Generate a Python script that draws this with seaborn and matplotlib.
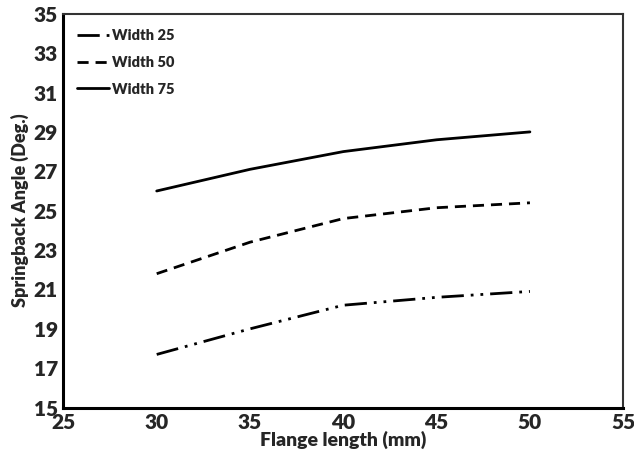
import matplotlib
matplotlib.use("Agg")
import matplotlib.pyplot as plt
import seaborn as sns
import pandas as pd

# values
flange = [30, 35, 40, 45, 50]
width_25 = [17.7, 19.0, 20.2, 20.6, 20.9]
width_50 = [21.8, 23.4, 24.6, 25.15, 25.4]
width_75 = [26.0, 27.1, 28.0, 28.6, 29.0]

df = pd.DataFrame({
    "Flange length (mm)": flange * 3,
    "Springback Angle (Deg.)": width_25 + width_50 + width_75,
    "series": ["Width 25"] * 5 + ["Width 50"] * 5 + ["Width 75"] * 5,
})

sns.set_theme(style="white")
plt.rcParams["font.family"] = ["Lato", "DejaVu Sans"]
plt.rcParams["font.weight"] = "bold"

fig, ax = plt.subplots(figsize=(6.34, 4.58), dpi=100)
fig.subplots_adjust(left=0.1, right=0.983, top=0.97, bottom=0.11)

dash_map = {
    "Width 25": (8, 2.5, 1, 2.5, 1, 2.5),
    "Width 50": (4, 2.5),
    "Width 75": "",
}
sns.lineplot(data=df, x="Flange length (mm)", y="Springback Angle (Deg.)",
             hue="series", style="series", dashes=dash_map,
             palette=["black"] * 3, linewidth=2, ax=ax)

ax.set_xlim(25, 55)
ax.set_ylim(15, 35)
ax.set_xticks(range(25, 56, 5))
ax.set_yticks(range(15, 36, 2))
ax.tick_params(labelsize=15, length=0, pad=4)
for lab in ax.get_xticklabels() + ax.get_yticklabels():
    lab.set_fontweight("heavy")
ax.set_xlabel("Flange length (mm)", fontsize=14, fontweight="heavy", labelpad=-1)
ax.set_ylabel("Springback Angle (Deg.)", fontsize=13, fontweight="heavy", labelpad=3)

for s in ax.spines.values():
    s.set_color("#333333")
    s.set_linewidth(1.5)
ax.spines["left"].set_color("black")
ax.spines["bottom"].set_color("black")
ax.spines["left"].set_linewidth(2.2)
ax.spines["bottom"].set_linewidth(2.2)

leg = ax.legend(loc="upper left", frameon=False, handlelength=2.2,
                handletextpad=0.25, labelspacing=0.95,
                prop={"size": 10.5, "weight": "heavy"},
                bbox_to_anchor=(0.0, 0.995))

plt.savefig("out.png", dpi=100)
plt.close()
